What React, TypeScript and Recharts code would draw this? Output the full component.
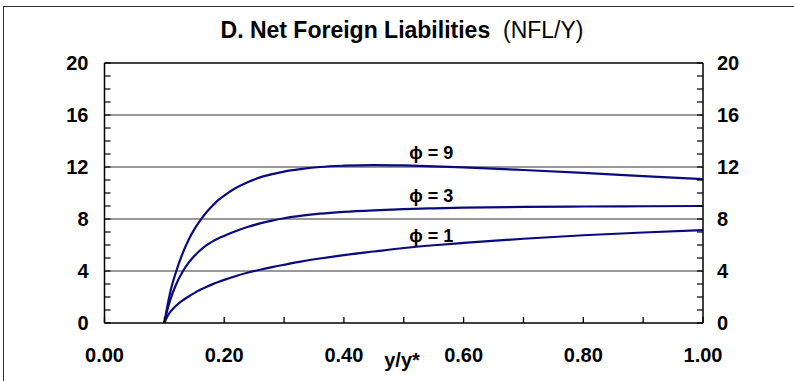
import { LineChart, Line, XAxis, YAxis, ReferenceLine, ReferenceDot } from "recharts";

// y/y* grid and NFL/Y paths for each phi
const ratio = [0.1, 0.105, 0.11, 0.12, 0.13, 0.14, 0.15, 0.16, 0.17, 0.18, 0.19, 0.2, 0.22, 0.24, 0.26, 0.28, 0.3, 0.33, 0.36, 0.4, 0.45, 0.5, 0.55, 0.6, 0.7, 0.8, 0.9, 1.0];
const phi9 = [0, 1.3, 2.4, 4.0, 5.3, 6.35, 7.2, 7.9, 8.5, 9.0, 9.45, 9.8, 10.4, 10.85, 11.2, 11.45, 11.65, 11.85, 12.0, 12.1, 12.15, 12.12, 12.05, 11.97, 11.77, 11.55, 11.3, 11.07];
const phi3 = [0, 1.0, 1.8, 3.0, 3.9, 4.6, 5.15, 5.6, 5.97, 6.26, 6.5, 6.7, 7.08, 7.4, 7.66, 7.88, 8.06, 8.26, 8.41, 8.55, 8.67, 8.76, 8.82, 8.87, 8.93, 8.96, 8.98, 9.0];
const phi1 = [0, 0.5, 0.85, 1.35, 1.72, 2.02, 2.3, 2.55, 2.77, 2.97, 3.15, 3.32, 3.62, 3.88, 4.1, 4.3, 4.48, 4.74, 4.96, 5.22, 5.5, 5.77, 5.98, 6.16, 6.48, 6.75, 6.96, 7.14];

const xTicks = [0, 0.1, 0.2, 0.3, 0.4, 0.5, 0.6, 0.7, 0.8, 0.9, 1.0];
const yTicks = [0, 1, 2, 3, 4, 5, 6, 7, 8, 9, 10, 11, 12, 13, 14, 15, 16, 17, 18, 19, 20];
const gridLines = [4, 8, 12, 16];

const curveLabels = [
  { text: "\u03d5 = 9", x: 0.546, y: 13.07 },
  { text: "\u03d5 = 3", x: 0.546, y: 9.78 },
  { text: "\u03d5 = 1", x: 0.546, y: 6.76 },
];

const rows = ratio.map((r, i) => ({ r, p9: phi9[i], p3: phi3[i], p1: phi1[i] }));

const FONT = "'Liberation Sans', Arial, sans-serif";
const NAVY = "#0a0a80";

const XTick = (props: any) => {
  const { x, y, payload } = props;
  const v = payload.value as number;
  const major = Math.round(v * 10) % 2 === 0;
  return (
    <g>
      <line x1={x} x2={x} y1={y} y2={y - 6} stroke="#000" strokeWidth={1.3} />
      {major && (
        <text x={x} y={y + 39} textAnchor="middle" fontFamily={FONT} fontWeight="bold" fontSize={20} fill="#000">
          {v.toFixed(2)}
        </text>
      )}
    </g>
  );
};

const LeftTick = (props: any) => {
  const { x, y, payload } = props;
  const v = payload.value as number;
  return (
    <g>
      <line x1={x} x2={x + 6} y1={y} y2={y} stroke="#000" strokeWidth={1.2} />
      {v % 4 === 0 && (
        <text x={x - 16} y={y + 7} textAnchor="end" fontFamily={FONT} fontWeight="bold" fontSize={20} fill="#000">
          {v}
        </text>
      )}
    </g>
  );
};

const RightTick = (props: any) => {
  const { x, y, payload } = props;
  const v = payload.value as number;
  return (
    <g>
      <line x1={x} x2={x - 6} y1={y} y2={y} stroke="#000" strokeWidth={1.2} />
      {v % 4 === 0 && (
        <text x={x + 14} y={y + 7} textAnchor="start" fontFamily={FONT} fontWeight="bold" fontSize={20} fill="#000">
          {v}
        </text>
      )}
    </g>
  );
};

export default function App() {
  return (
    <div style={{ position: "absolute", left: 0, top: 0, width: 794, height: 381, overflow: "hidden", background: "#fff" }}>
      <div style={{ position: "absolute", left: 3, top: 6, width: 820, height: 420, borderLeft: "1.5px solid #333", borderTop: "1.5px solid #333" }} />
      <div style={{ position: "absolute", left: 0, top: 17, width: 804, textAlign: "center", fontFamily: FONT, fontSize: 23, color: "#000", whiteSpace: "pre" }}>
        <span style={{ fontWeight: "bold" }}>D. Net Foreign Liabilities</span>
        <span>{"  (NFL/Y)"}</span>
      </div>
      <LineChart width={794} height={381} data={rows} margin={{ top: 63, right: 31, bottom: 28, left: 44.5 }}>
        <XAxis
          dataKey="r"
          type="number"
          domain={[0, 1]}
          ticks={xTicks}
          interval={0}
          tickSize={0}
          tickMargin={0}
          tickLine={false}
          tick={<XTick />}
          axisLine={{ stroke: "#000", strokeWidth: 1.5 }}
          height={30}
        />
        <YAxis
          yAxisId="left"
          type="number"
          domain={[0, 20]}
          allowDataOverflow
          ticks={yTicks}
          interval={0}
          tickSize={0}
          tickMargin={0}
          tickLine={false}
          tick={<LeftTick />}
          axisLine={{ stroke: "#000", strokeWidth: 1.5 }}
          width={60}
        />
        <YAxis
          yAxisId="right"
          orientation="right"
          type="number"
          domain={[0, 20]}
          allowDataOverflow
          ticks={yTicks}
          interval={0}
          tickSize={0}
          tickMargin={0}
          tickLine={false}
          tick={<RightTick />}
          axisLine={{ stroke: "#000", strokeWidth: 1.5 }}
          width={60}
        />
        {gridLines.map((g) => (
          <ReferenceLine key={g} yAxisId="left" y={g} stroke="#777" strokeWidth={1.3} />
        ))}
        <ReferenceLine yAxisId="left" y={20} stroke="#000" strokeWidth={1.5} />
        <Line yAxisId="left" type="monotone" dataKey="p9" stroke={NAVY} strokeWidth={2.2} dot={false} isAnimationActive={false} />
        <Line yAxisId="left" type="monotone" dataKey="p3" stroke={NAVY} strokeWidth={2.2} dot={false} isAnimationActive={false} />
        <Line yAxisId="right" type="monotone" dataKey="p1" stroke={NAVY} strokeWidth={2.2} dot={false} isAnimationActive={false} />
        {curveLabels.map((c) => (
          <ReferenceDot
            key={c.text}
            yAxisId="left"
            x={c.x}
            y={c.y}
            r={0}
            fill="none"
            stroke="none"
            label={{ value: c.text, position: "center", fontFamily: FONT, fontWeight: "bold", fontSize: 18, fill: "#000" }}
          />
        ))}
      </LineChart>
      <div style={{ position: "absolute", left: 402, top: 349, transform: "translateX(-50%)", fontFamily: FONT, fontWeight: "bold", fontSize: 20, color: "#000" }}>
        y/y*
      </div>
    </div>
  );
}
